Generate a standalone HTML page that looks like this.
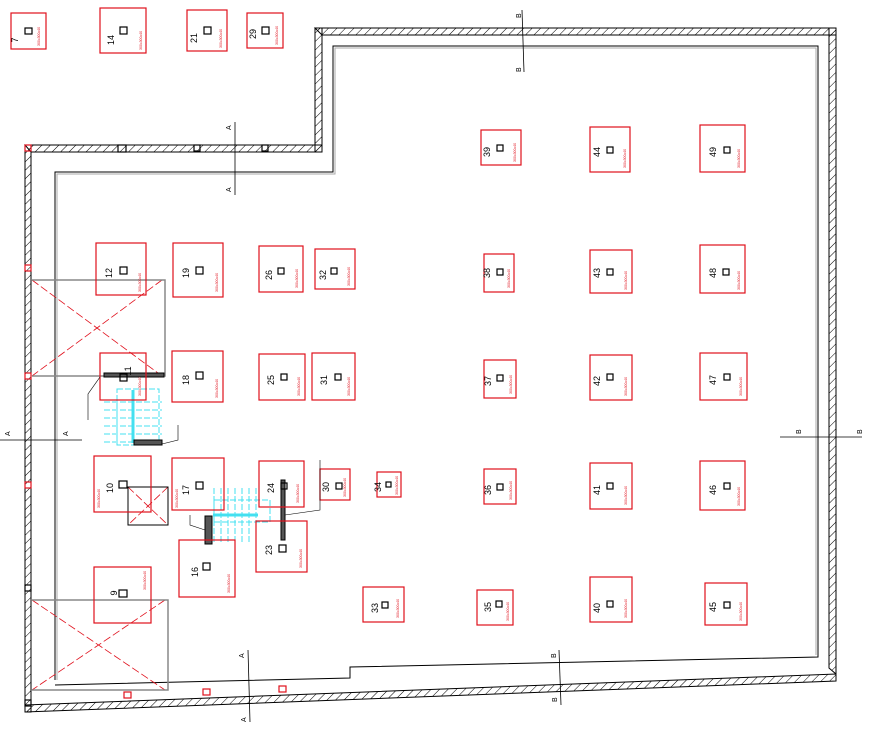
<!DOCTYPE html>
<html><head><style>body{margin:0;background:#fff}svg{display:block}</style></head><body>
<svg width="872" height="738" viewBox="0 0 872 738" xmlns="http://www.w3.org/2000/svg" font-family="Liberation Sans, sans-serif">
<defs>
<pattern id="h" width="6" height="6" patternUnits="userSpaceOnUse" patternTransform="rotate(45)"><line x1="0" y1="0" x2="0" y2="6" stroke="#000" stroke-width="1"/></pattern>
</defs>
<rect width="872" height="738" fill="#fff"/>
<!-- walls -->
<g fill="url(#h)" stroke="#000" stroke-width="1">
<polygon points="25,145 322,145 322,152 31,152"/>
<polygon points="315,28 322,28 322,152 315,152"/>
<polygon points="315,28 836,28 836,35 322,35"/>
<polygon points="829,28 836,28 836,674 829,668"/>
<polygon points="25,145 31,145 31,712 25,712"/>
<polygon points="25,705 836,674 836,681 25,712"/>
</g>
<!-- inner line -->
<polyline points="55,680 55,172 333,172 333,46 818,46 818,657 350,667 350,678 55,685" fill="none" stroke="#000" stroke-width="1"/>
<polyline points="57,680 57,174 335,174 335,48 816,48 816,655" fill="none" stroke="#aaa" stroke-width="1"/>
<!-- X boxes -->
<g stroke="#e0101c" stroke-width="0.8" stroke-dasharray="8,3" fill="none">
<line x1="32" y1="280" x2="162" y2="376"/><line x1="162" y1="280" x2="32" y2="376"/>
<line x1="32" y1="600" x2="165" y2="690"/><line x1="165" y1="600" x2="32" y2="690"/>
<line x1="128" y1="487" x2="168" y2="525"/><line x1="168" y1="487" x2="128" y2="525"/>
</g>
<g fill="none" stroke="#888" stroke-width="1.5">
<polyline points="32,280 165,280 165,376 32,376"/>
<polyline points="32,600 168,600 168,690 32,690"/>
<rect x="128" y="487" width="40" height="38" stroke="#000" stroke-width="1"/>
</g>
<!-- stairs -->
<g stroke="#44e0f0" stroke-width="1" fill="none" stroke-dasharray="6,2">
<rect x="117" y="389" width="42" height="56"/>
<line x1="104" y1="402" x2="162" y2="402"/><line x1="104" y1="410" x2="162" y2="410"/><line x1="104" y1="418" x2="162" y2="418"/><line x1="104" y1="426" x2="162" y2="426"/><line x1="104" y1="434" x2="162" y2="434"/><line x1="104" y1="442" x2="162" y2="442"/>
<line x1="214" y1="488" x2="214" y2="542"/><line x1="221" y1="488" x2="221" y2="542"/><line x1="228" y1="488" x2="228" y2="542"/><line x1="235" y1="488" x2="235" y2="542"/><line x1="242" y1="488" x2="242" y2="542"/><line x1="249" y1="488" x2="249" y2="542"/><line x1="256" y1="488" x2="256" y2="542"/>
<rect x="214" y="500" width="56" height="22"/>
</g>
<line x1="133" y1="390" x2="133" y2="443" stroke="#44e0f0" stroke-width="3"/>
<line x1="213" y1="515" x2="258" y2="515" stroke="#44e0f0" stroke-width="3"/>
<g fill="#555" stroke="#000"><rect x="104" y="373" width="60" height="4"/><rect x="134" y="440" width="28" height="5"/><rect x="205" y="516" width="7" height="28"/><rect x="281" y="480" width="4" height="60"/></g>
<!-- columns -->
<g fill="none" stroke="#e0101c" stroke-width="1.2">
<rect x="11" y="13" width="35" height="36"/><rect x="100" y="8" width="46" height="45"/><rect x="187" y="10" width="40" height="41"/><rect x="247" y="13" width="36" height="35"/>
<rect x="481" y="130" width="40" height="35"/><rect x="590" y="127" width="40" height="45"/><rect x="700" y="125" width="45" height="47"/>
<rect x="96" y="243" width="50" height="52"/><rect x="173" y="243" width="50" height="54"/><rect x="259" y="246" width="44" height="46"/><rect x="315" y="249" width="40" height="40"/><rect x="484" y="254" width="30" height="38"/><rect x="590" y="250" width="42" height="43"/><rect x="700" y="245" width="45" height="48"/>
<rect x="100" y="353" width="46" height="47"/><rect x="172" y="351" width="51" height="51"/><rect x="259" y="354" width="46" height="46"/><rect x="312" y="353" width="43" height="47"/><rect x="484" y="360" width="32" height="38"/><rect x="590" y="355" width="42" height="45"/><rect x="700" y="353" width="47" height="47"/>
<rect x="94" y="456" width="57" height="56"/><rect x="172" y="458" width="52" height="52"/><rect x="259" y="461" width="45" height="46"/><rect x="320" y="469" width="30" height="31"/><rect x="377" y="472" width="24" height="25"/><rect x="484" y="469" width="32" height="35"/><rect x="590" y="463" width="42" height="46"/><rect x="700" y="461" width="45" height="49"/>
<rect x="256" y="521" width="51" height="51"/><rect x="179" y="540" width="56" height="57"/>
<rect x="94" y="567" width="57" height="56"/><rect x="363" y="587" width="41" height="35"/><rect x="477" y="590" width="36" height="35"/><rect x="590" y="577" width="42" height="45"/><rect x="705" y="583" width="42" height="42"/>
</g>
<g fill="none" stroke="#000" stroke-width="1.2">
<rect x="25" y="28" width="7" height="6"/><rect x="120" y="27" width="7" height="7"/><rect x="204" y="27" width="7" height="7"/><rect x="262" y="27" width="7" height="7"/>
<rect x="497" y="145" width="6" height="6"/><rect x="607" y="147" width="6" height="6"/><rect x="724" y="147" width="6" height="6"/>
<rect x="120" y="267" width="7" height="7"/><rect x="196" y="267" width="7" height="7"/><rect x="278" y="268" width="6" height="6"/><rect x="331" y="268" width="6" height="6"/><rect x="497" y="269" width="6" height="6"/><rect x="607" y="269" width="6" height="6"/><rect x="723" y="269" width="6" height="6"/>
<rect x="120" y="374" width="7" height="7"/><rect x="196" y="372" width="7" height="7"/><rect x="281" y="374" width="6" height="6"/><rect x="335" y="374" width="6" height="6"/><rect x="497" y="375" width="6" height="6"/><rect x="607" y="374" width="6" height="6"/><rect x="724" y="374" width="6" height="6"/>
<rect x="119" y="481" width="8" height="7"/><rect x="196" y="482" width="7" height="7"/><rect x="281" y="483" width="6" height="6"/><rect x="336" y="483" width="6" height="6"/><rect x="386" y="482" width="5" height="5"/><rect x="497" y="484" width="6" height="6"/><rect x="607" y="483" width="6" height="6"/><rect x="724" y="483" width="6" height="6"/>
<rect x="279" y="545" width="7" height="7"/><rect x="203" y="563" width="7" height="7"/>
<rect x="119" y="590" width="8" height="7"/><rect x="382" y="602" width="6" height="6"/><rect x="496" y="601" width="6" height="6"/><rect x="607" y="601" width="6" height="6"/><rect x="724" y="602" width="6" height="6"/>
<rect x="25" y="145" width="6" height="6" stroke="#e0101c"/><rect x="118" y="145" width="8" height="7"/><rect x="194" y="145" width="6" height="6"/><rect x="262" y="145" width="6" height="6"/>
<rect x="25" y="265" width="6" height="6" stroke="#e0101c"/><rect x="25" y="373" width="6" height="6" stroke="#e0101c"/><rect x="25" y="482" width="6" height="6" stroke="#e0101c"/><rect x="25" y="585" width="6" height="6"/><rect x="25" y="700" width="6" height="6"/>
<rect x="124" y="692" width="7" height="6" stroke="#e0101c"/><rect x="203" y="689" width="7" height="6" stroke="#e0101c"/><rect x="279" y="686" width="7" height="6" stroke="#e0101c"/>
</g>
<!-- labels -->
<g font-size="9" fill="#000" text-anchor="middle">
<text transform="translate(18,40) rotate(-90)">7</text><text transform="translate(114,40) rotate(-90)">14</text><text transform="translate(197,38) rotate(-90)">21</text><text transform="translate(256,34) rotate(-90)">29</text>
<text transform="translate(490,152) rotate(-90)">39</text><text transform="translate(600,152) rotate(-90)">44</text><text transform="translate(716,152) rotate(-90)">49</text>
<text transform="translate(112,273) rotate(-90)">12</text><text transform="translate(189,273) rotate(-90)">19</text><text transform="translate(272,275) rotate(-90)">26</text><text transform="translate(326,275) rotate(-90)">32</text><text transform="translate(490,273) rotate(-90)">38</text><text transform="translate(600,273) rotate(-90)">43</text><text transform="translate(716,273) rotate(-90)">48</text>
<text transform="translate(131,371) rotate(-90)">11</text><text transform="translate(189,380) rotate(-90)">18</text><text transform="translate(274,380) rotate(-90)">25</text><text transform="translate(327,380) rotate(-90)">31</text><text transform="translate(491,381) rotate(-90)">37</text><text transform="translate(600,381) rotate(-90)">42</text><text transform="translate(716,380) rotate(-90)">47</text>
<text transform="translate(113,488) rotate(-90)">10</text><text transform="translate(189,490) rotate(-90)">17</text><text transform="translate(274,488) rotate(-90)">24</text><text transform="translate(329,487) rotate(-90)">30</text><text transform="translate(381,487) rotate(-90)">34</text><text transform="translate(491,490) rotate(-90)">36</text><text transform="translate(600,490) rotate(-90)">41</text><text transform="translate(716,490) rotate(-90)">46</text>
<text transform="translate(272,550) rotate(-90)">23</text><text transform="translate(198,572) rotate(-90)">16</text>
<text transform="translate(117,593) rotate(-90)">9</text><text transform="translate(378,608) rotate(-90)">33</text><text transform="translate(491,607) rotate(-90)">35</text><text transform="translate(600,608) rotate(-90)">40</text><text transform="translate(716,607) rotate(-90)">45</text>
</g>
<g font-size="3.5" fill="#e0101c">
<text transform="translate(40,46) rotate(-90)">300x300x40</text><text transform="translate(142,50) rotate(-90)">300x300x40</text><text transform="translate(222,48) rotate(-90)">300x300x40</text><text transform="translate(278,45) rotate(-90)">300x300x40</text>
<text transform="translate(516,162) rotate(-90)">300x300x40</text><text transform="translate(626,168) rotate(-90)">300x300x40</text><text transform="translate(740,168) rotate(-90)">300x300x40</text>
<text transform="translate(141,292) rotate(-90)">300x300x40</text><text transform="translate(218,292) rotate(-90)">300x300x40</text><text transform="translate(298,288) rotate(-90)">300x300x40</text><text transform="translate(350,286) rotate(-90)">300x300x40</text><text transform="translate(510,288) rotate(-90)">300x300x40</text><text transform="translate(627,290) rotate(-90)">300x300x40</text><text transform="translate(740,290) rotate(-90)">300x300x40</text>
<text transform="translate(141,396) rotate(-90)">300x300x40</text><text transform="translate(218,398) rotate(-90)">300x300x40</text><text transform="translate(300,396) rotate(-90)">300x300x40</text><text transform="translate(350,396) rotate(-90)">300x300x40</text><text transform="translate(512,394) rotate(-90)">300x300x40</text><text transform="translate(627,396) rotate(-90)">300x300x40</text><text transform="translate(742,396) rotate(-90)">300x300x40</text>
<text transform="translate(100,508) rotate(-90)">300x300x40</text><text transform="translate(178,508) rotate(-90)">300x300x40</text><text transform="translate(299,503) rotate(-90)">300x300x40</text><text transform="translate(346,497) rotate(-90)">300x300x40</text><text transform="translate(398,495) rotate(-90)">300x300x40</text><text transform="translate(512,500) rotate(-90)">300x300x40</text><text transform="translate(627,505) rotate(-90)">300x300x40</text><text transform="translate(740,506) rotate(-90)">300x300x40</text>
<text transform="translate(302,568) rotate(-90)">300x300x40</text><text transform="translate(230,593) rotate(-90)">300x300x40</text>
<text transform="translate(146,590) rotate(-90)">300x300x40</text><text transform="translate(399,618) rotate(-90)">300x300x40</text><text transform="translate(509,621) rotate(-90)">300x300x40</text><text transform="translate(627,618) rotate(-90)">300x300x40</text><text transform="translate(742,621) rotate(-90)">300x300x40</text>
</g>
<!-- section lines -->
<g stroke="#000" stroke-width="0.8">
<line x1="0" y1="440" x2="82" y2="440"/><line x1="780" y1="437" x2="862" y2="437"/>
<line x1="235" y1="122" x2="235" y2="195"/><line x1="522" y1="10" x2="524" y2="72"/>
<line x1="248" y1="650" x2="250" y2="722"/><line x1="559" y1="650" x2="561" y2="705"/>
</g>
<g font-size="7" fill="#000">
<text transform="translate(10,436) rotate(-90)">A</text><text transform="translate(68,436) rotate(-90)">A</text>
<text transform="translate(801,434) rotate(-90)">B</text><text transform="translate(862,434) rotate(-90)">B</text>
<text transform="translate(231,130) rotate(-90)">A</text><text transform="translate(231,192) rotate(-90)">A</text>
<text transform="translate(521,18) rotate(-90)">B</text><text transform="translate(521,72) rotate(-90)">B</text>
<text transform="translate(244,658) rotate(-90)">A</text><text transform="translate(246,722) rotate(-90)">A</text>
<text transform="translate(556,658) rotate(-90)">B</text><text transform="translate(557,702) rotate(-90)">B</text>
</g>
<g stroke="#000" stroke-width="0.6" fill="none">
<polyline points="100,377 88,394 88,420"/><polyline points="162,444 178,440 178,425"/><polyline points="205,530 190,525 190,515"/><polyline points="285,515 320,510 320,460"/>
</g>
</svg>
</body></html>
